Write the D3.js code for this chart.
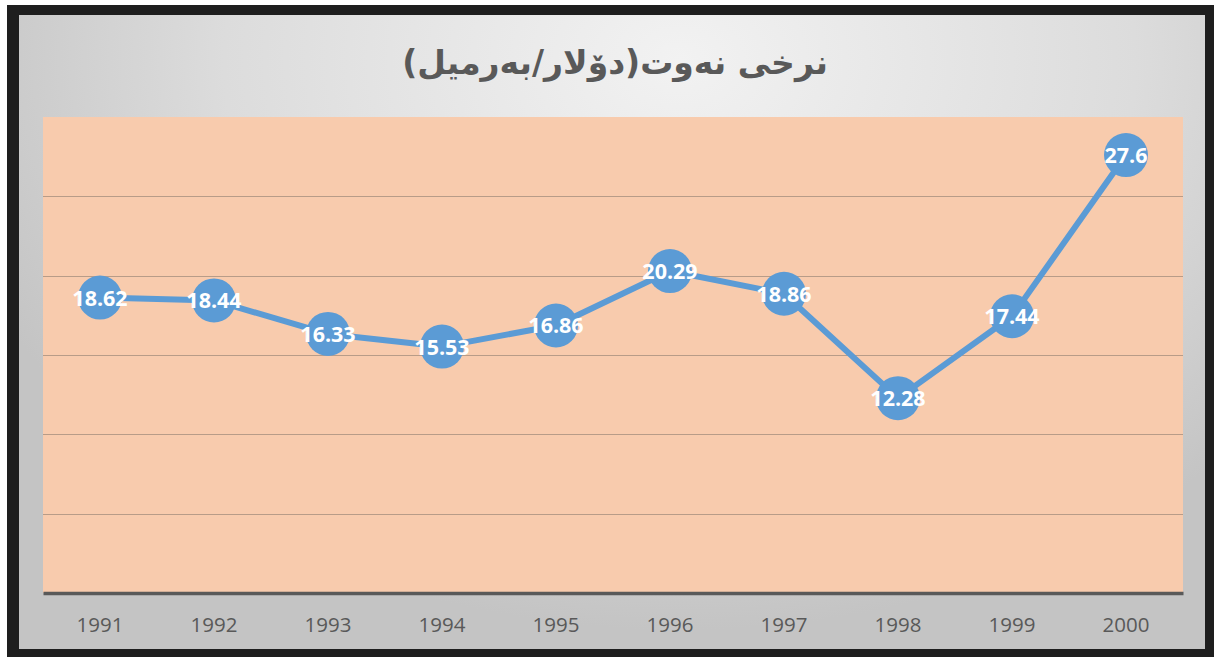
<!DOCTYPE html>
<html>
<head>
<meta charset="utf-8">
<script src="https://cdn.jsdelivr.net/npm/d3@7"></script>
<style>
  html, body { margin: 0; padding: 0; background: #ffffff; }
  svg { display: block; }
</style>
</head>
<body>
<svg id="chart" width="1214" height="657"></svg>
<script>
const title = "نرخی نەوت(دۆلار/بەرمیل)";
const years = ["1991", "1992", "1993", "1994", "1995", "1996", "1997", "1998", "1999", "2000"];
const prices = [18.62, 18.44, 16.33, 15.53, 16.86, 20.29, 18.86, 12.28, 17.44, 27.6];
const gridValues = [5, 10, 15, 20, 25];

const svg = d3.select("#chart");
const W = 1214, H = 657;

const defs = svg.append("defs");
const rg = defs.append("radialGradient")
  .attr("id", "bg").attr("gradientUnits", "userSpaceOnUse")
  .attr("cx", 680).attr("cy", 60).attr("r", 760)
  .attr("gradientTransform", "translate(680,60) scale(1,0.75) translate(-680,-60)");
rg.append("stop").attr("offset", "0%").attr("stop-color", "#f2f2f2");
rg.append("stop").attr("offset", "60%").attr("stop-color", "#dcdcdc");
rg.append("stop").attr("offset", "100%").attr("stop-color", "#c4c4c4");

// frame
svg.append("rect").attr("x", 7).attr("y", 5).attr("width", W - 7).attr("height", H - 5).attr("fill", "#1e1e1e");
svg.append("rect").attr("x", 19).attr("y", 15).attr("width", 1205 - 19).attr("height", 649 - 15).attr("fill", "url(#bg)");

const plot = { left: 43, right: 1183, top: 117, bottom: 593 };

const x = d3.scaleBand().domain(years).range([plot.left, plot.right]).padding(0);
const y = d3.scaleLinear().domain([0, 30]).range([plot.bottom, plot.top]);

svg.append("rect")
  .attr("x", plot.left).attr("y", plot.top)
  .attr("width", plot.right - plot.left).attr("height", plot.bottom - plot.top)
  .attr("fill", "#f8cbad");

// gridlines
svg.append("g").selectAll("line").data(gridValues).join("line")
  .attr("x1", plot.left).attr("x2", plot.right)
  .attr("y1", d => Math.round(y(d)) + 0.5).attr("y2", d => Math.round(y(d)) + 0.5)
  .attr("stroke", "#b89c88").attr("stroke-width", 1.2);

// x axis
const xAxis = d3.axisBottom(x).tickSize(0).tickPadding(0);
const gx = svg.append("g").attr("transform", `translate(0,${plot.bottom})`).call(xAxis);
gx.select(".domain").attr("stroke", "#595959").attr("stroke-width", 3.5);
gx.selectAll("text")
  .attr("y", 39)
  .attr("dy", 0)
  .attr("fill", "#595959")
  .style("font-family", "'Open Sans', 'Liberation Sans', sans-serif")
  .style("font-size", "20.5px");

// line
const line = d3.line().x(d => x(d.year) + x.bandwidth() / 2).y(d => y(d.value));
const data = years.map((yr, i) => ({ year: yr, value: prices[i] }));

svg.append("path").datum(data)
  .attr("d", line)
  .attr("fill", "none")
  .attr("stroke", "#5b9bd5")
  .attr("stroke-width", 6)
  .attr("stroke-linejoin", "round");

svg.append("g").selectAll("circle").data(data).join("circle")
  .attr("cx", d => x(d.year) + x.bandwidth() / 2)
  .attr("cy", d => y(d.value))
  .attr("r", 22)
  .attr("fill", "#5b9bd5");

svg.append("g").selectAll("text").data(data).join("text")
  .attr("x", d => x(d.year) + x.bandwidth() / 2)
  .attr("y", d => y(d.value) + 8)
  .attr("text-anchor", "middle")
  .attr("fill", "#ffffff")
  .style("font-family", "'Open Sans', 'Liberation Sans', sans-serif")
  .style("font-weight", "bold")
  .style("font-size", "21.5px")
  .text(d => d.value);

// title
svg.append("text")
  .attr("x", 615).attr("y", 74)
  .attr("text-anchor", "middle")
  .attr("direction", "rtl")
  .attr("fill", "#595959")
  .style("font-family", "'DejaVu Sans', sans-serif")
  .style("font-weight", "bold")
  .style("font-size", "33px")
  .style("unicode-bidi", "plaintext")
  .text(title);
</script>
</body>
</html>
